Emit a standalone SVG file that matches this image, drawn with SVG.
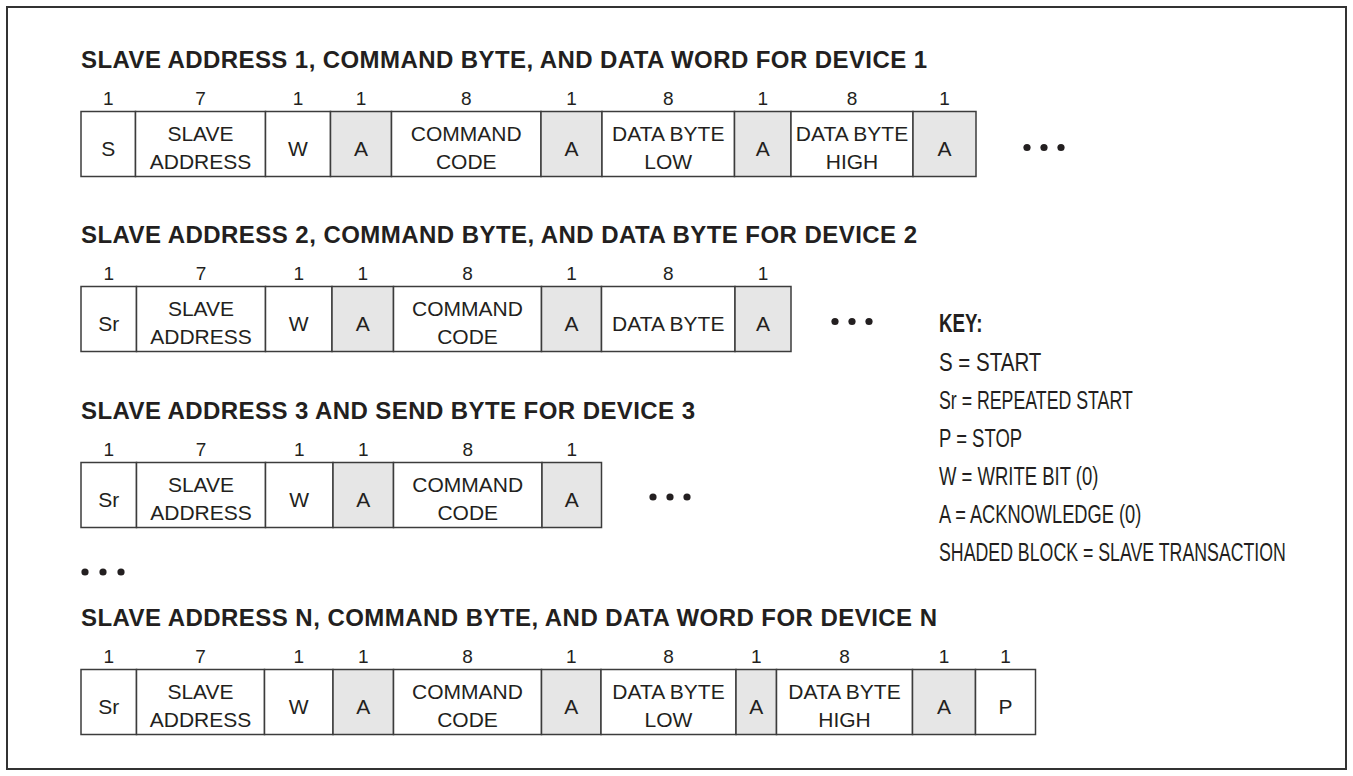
<svg xmlns="http://www.w3.org/2000/svg" width="1353" height="776" viewBox="0 0 1353 776">
<style>
.bg{fill:#ffffff}
.frame{fill:none;stroke:#333333;stroke-width:2}
.c{fill:#ffffff;stroke:#3c3c3c;stroke-width:1.5}
.s{fill:#e6e6e6;stroke:#3c3c3c;stroke-width:1.5}
text{font-family:"Liberation Sans",Arial,Helvetica,sans-serif;fill:#231f20}
.t{font-size:21px;text-anchor:middle}
.n{font-size:19px;text-anchor:middle}
.h{font-size:24px;font-weight:bold}
.k{font-size:25px}
.kb{font-size:25px;font-weight:bold}
.dot{fill:#231f20}
</style>
<rect class="bg" x="0" y="0" width="1353" height="776"/>
<rect class="frame" x="7" y="7" width="1339" height="762"/>
<g id="connectors"/>

<!-- ROW 1 -->
<g id="row1">
<text class="h" x="81" y="68" textLength="846">SLAVE ADDRESS 1, COMMAND BYTE, AND DATA WORD FOR DEVICE 1</text>
<g id="r1-start"><rect class="c" x="81" y="111.5" width="54.5" height="65"/><text class="n" x="108.25" y="104.5">1</text><text class="t" x="108.25" y="156">S</text></g>
<g id="r1-addr"><rect class="c" x="135.5" y="111.5" width="130" height="65"/><text class="n" x="200.5" y="104.5">7</text><text class="t" x="200.5" y="141">SLAVE</text><text class="t" x="200.5" y="168.5">ADDRESS</text></g>
<g id="r1-w"><rect class="c" x="265.5" y="111.5" width="65" height="65"/><text class="n" x="298" y="104.5">1</text><text class="t" x="298" y="156">W</text></g>
<g id="r1-a1"><rect class="s" x="330.5" y="111.5" width="61" height="65"/><text class="n" x="361" y="104.5">1</text><text class="t" x="361" y="156">A</text></g>
<g id="r1-cmd"><rect class="c" x="391.5" y="111.5" width="149.5" height="65"/><text class="n" x="466.25" y="104.5">8</text><text class="t" x="466.25" y="141">COMMAND</text><text class="t" x="466.25" y="168.5">CODE</text></g>
<g id="r1-a2"><rect class="s" x="541" y="111.5" width="61" height="65"/><text class="n" x="571.5" y="104.5">1</text><text class="t" x="571.5" y="156">A</text></g>
<g id="r1-low"><rect class="c" x="602" y="111.5" width="132.5" height="65"/><text class="n" x="668.25" y="104.5">8</text><text class="t" x="668.25" y="141">DATA BYTE</text><text class="t" x="668.25" y="168.5">LOW</text></g>
<g id="r1-a3"><rect class="s" x="734.5" y="111.5" width="56.5" height="65"/><text class="n" x="762.75" y="104.5">1</text><text class="t" x="762.75" y="156">A</text></g>
<g id="r1-high"><rect class="c" x="791" y="111.5" width="122" height="65"/><text class="n" x="852" y="104.5">8</text><text class="t" x="852" y="141">DATA BYTE</text><text class="t" x="852" y="168.5">HIGH</text></g>
<g id="r1-a4"><rect class="s" x="913" y="111.5" width="63" height="65"/><text class="n" x="944.5" y="104.5">1</text><text class="t" x="944.5" y="156">A</text></g>
<g id="r1-more"><circle class="dot" cx="1027" cy="147.5" r="3.6"/><circle class="dot" cx="1044" cy="147.5" r="3.6"/><circle class="dot" cx="1061" cy="147.5" r="3.6"/></g>
</g>

<!-- ROW 2 -->
<g id="row2">
<text class="h" x="81" y="243" textLength="836">SLAVE ADDRESS 2, COMMAND BYTE, AND DATA BYTE FOR DEVICE 2</text>
<g id="r2-start"><rect class="c" x="81" y="286.5" width="55.5" height="65"/><text class="n" x="108.75" y="279.5">1</text><text class="t" x="108.75" y="331">Sr</text></g>
<g id="r2-addr"><rect class="c" x="136.5" y="286.5" width="129" height="65"/><text class="n" x="201" y="279.5">7</text><text class="t" x="201" y="316">SLAVE</text><text class="t" x="201" y="343.5">ADDRESS</text></g>
<g id="r2-w"><rect class="c" x="265.5" y="286.5" width="66.5" height="65"/><text class="n" x="298.75" y="279.5">1</text><text class="t" x="298.75" y="331">W</text></g>
<g id="r2-a1"><rect class="s" x="332" y="286.5" width="61.5" height="65"/><text class="n" x="362.75" y="279.5">1</text><text class="t" x="362.75" y="331">A</text></g>
<g id="r2-cmd"><rect class="c" x="393.5" y="286.5" width="148" height="65"/><text class="n" x="467.5" y="279.5">8</text><text class="t" x="467.5" y="316">COMMAND</text><text class="t" x="467.5" y="343.5">CODE</text></g>
<g id="r2-a2"><rect class="s" x="541.5" y="286.5" width="60" height="65"/><text class="n" x="571.5" y="279.5">1</text><text class="t" x="571.5" y="331">A</text></g>
<g id="r2-data"><rect class="c" x="601.5" y="286.5" width="133.5" height="65"/><text class="n" x="668.25" y="279.5">8</text><text class="t" x="668.25" y="331">DATA BYTE</text></g>
<g id="r2-a3"><rect class="s" x="735" y="286.5" width="56" height="65"/><text class="n" x="763" y="279.5">1</text><text class="t" x="763" y="331">A</text></g>
<g id="r2-more"><circle class="dot" cx="835" cy="321.5" r="3.6"/><circle class="dot" cx="852" cy="321.5" r="3.6"/><circle class="dot" cx="869" cy="321.5" r="3.6"/></g>
</g>

<!-- ROW 3 -->
<g id="row3">
<text class="h" x="81" y="419" textLength="614">SLAVE ADDRESS 3 AND SEND BYTE FOR DEVICE 3</text>
<g id="r3-start"><rect class="c" x="81" y="462.5" width="55.5" height="65"/><text class="n" x="108.75" y="455.5">1</text><text class="t" x="108.75" y="507">Sr</text></g>
<g id="r3-addr"><rect class="c" x="136.5" y="462.5" width="129" height="65"/><text class="n" x="201" y="455.5">7</text><text class="t" x="201" y="492">SLAVE</text><text class="t" x="201" y="519.5">ADDRESS</text></g>
<g id="r3-w"><rect class="c" x="265.5" y="462.5" width="67.5" height="65"/><text class="n" x="299.25" y="455.5">1</text><text class="t" x="299.25" y="507">W</text></g>
<g id="r3-a1"><rect class="s" x="333" y="462.5" width="60.5" height="65"/><text class="n" x="363.25" y="455.5">1</text><text class="t" x="363.25" y="507">A</text></g>
<g id="r3-cmd"><rect class="c" x="393.5" y="462.5" width="148.5" height="65"/><text class="n" x="467.75" y="455.5">8</text><text class="t" x="467.75" y="492">COMMAND</text><text class="t" x="467.75" y="519.5">CODE</text></g>
<g id="r3-a2"><rect class="s" x="542" y="462.5" width="59.5" height="65"/><text class="n" x="571.75" y="455.5">1</text><text class="t" x="571.75" y="507">A</text></g>
<g id="r3-more"><circle class="dot" cx="653" cy="497" r="3.6"/><circle class="dot" cx="670" cy="497" r="3.6"/><circle class="dot" cx="687" cy="497" r="3.6"/></g>
</g>

<g id="rows-more"><circle class="dot" cx="85" cy="572" r="3.6"/><circle class="dot" cx="103" cy="572" r="3.6"/><circle class="dot" cx="121" cy="572" r="3.6"/></g>

<!-- ROW 4 -->
<g id="row4">
<text class="h" x="81" y="626" textLength="856">SLAVE ADDRESS N, COMMAND BYTE, AND DATA WORD FOR DEVICE N</text>
<g id="r4-start"><rect class="c" x="81" y="669.5" width="55.5" height="65"/><text class="n" x="108.75" y="662.5">1</text><text class="t" x="108.75" y="714">Sr</text></g>
<g id="r4-addr"><rect class="c" x="136.5" y="669.5" width="128" height="65"/><text class="n" x="200.5" y="662.5">7</text><text class="t" x="200.5" y="699">SLAVE</text><text class="t" x="200.5" y="726.5">ADDRESS</text></g>
<g id="r4-w"><rect class="c" x="264.5" y="669.5" width="68.5" height="65"/><text class="n" x="298.75" y="662.5">1</text><text class="t" x="298.75" y="714">W</text></g>
<g id="r4-a1"><rect class="s" x="333" y="669.5" width="60.5" height="65"/><text class="n" x="363.25" y="662.5">1</text><text class="t" x="363.25" y="714">A</text></g>
<g id="r4-cmd"><rect class="c" x="393.5" y="669.5" width="148" height="65"/><text class="n" x="467.5" y="662.5">8</text><text class="t" x="467.5" y="699">COMMAND</text><text class="t" x="467.5" y="726.5">CODE</text></g>
<g id="r4-a2"><rect class="s" x="541.5" y="669.5" width="59.5" height="65"/><text class="n" x="571.25" y="662.5">1</text><text class="t" x="571.25" y="714">A</text></g>
<g id="r4-low"><rect class="c" x="601" y="669.5" width="135" height="65"/><text class="n" x="668.5" y="662.5">8</text><text class="t" x="668.5" y="699">DATA BYTE</text><text class="t" x="668.5" y="726.5">LOW</text></g>
<g id="r4-a3"><rect class="s" x="736" y="669.5" width="40.5" height="65"/><text class="n" x="756.25" y="662.5">1</text><text class="t" x="756.25" y="714">A</text></g>
<g id="r4-high"><rect class="c" x="776.5" y="669.5" width="136" height="65"/><text class="n" x="844.5" y="662.5">8</text><text class="t" x="844.5" y="699">DATA BYTE</text><text class="t" x="844.5" y="726.5">HIGH</text></g>
<g id="r4-a4"><rect class="s" x="912.5" y="669.5" width="63" height="65"/><text class="n" x="944" y="662.5">1</text><text class="t" x="944" y="714">A</text></g>
<g id="r4-stop"><rect class="c" x="975.5" y="669.5" width="60" height="65"/><text class="n" x="1005.5" y="662.5">1</text><text class="t" x="1005.5" y="714">P</text></g>
</g>

<!-- KEY -->
<g id="key">
<text class="kb" transform="translate(939,332) scale(0.75,1)">KEY:</text>
<text class="k" transform="translate(939,371) scale(0.82,1)">S = START</text>
<text class="k" transform="translate(939,409) scale(0.71,1)">Sr = REPEATED START</text>
<text class="k" transform="translate(939,447) scale(0.74,1)">P = STOP</text>
<text class="k" transform="translate(939,485) scale(0.74,1)">W = WRITE BIT (0)</text>
<text class="k" transform="translate(939,523) scale(0.73,1)">A = ACKNOWLEDGE (0)</text>
<text class="k" transform="translate(939,561) scale(0.71,1)">SHADED BLOCK = SLAVE TRANSACTION</text>
</g>
</svg>
